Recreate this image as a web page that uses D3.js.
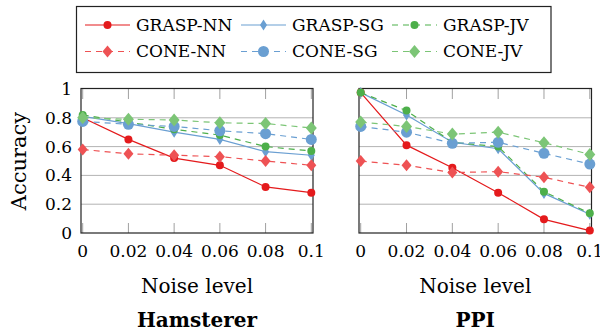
<!DOCTYPE html>
<html>
<head>
<meta charset="utf-8">
<script src="https://d3js.org/d3.v7.min.js"></script>
<style>
  body { margin: 0; background: #fff; }
</style>
</head>
<body>
<div id="chart"></div>
<script>
// noise levels on the x axis
const noise = [0, 0.02, 0.04, 0.06, 0.08, 0.1];
const xTicks = ["0", "0.02", "0.04", "0.06", "0.08", "0.1"];
const yTicks = [0, 0.2, 0.4, 0.6, 0.8, 1];

const seriesNames = ["GRASP-NN", "GRASP-SG", "GRASP-JV", "CONE-NN", "CONE-SG", "CONE-JV"];

// Hamsterer
const hamGraspNN = [0.80, 0.65, 0.52, 0.47, 0.32, 0.28];
const hamGraspSG = [0.81, 0.76, 0.70, 0.65, 0.565, 0.54];
const hamGraspJV = [0.82, 0.77, 0.72, 0.68, 0.60, 0.57];
const hamConeNN  = [0.58, 0.55, 0.54, 0.53, 0.50, 0.47];
const hamConeSG  = [0.775, 0.755, 0.74, 0.71, 0.69, 0.65];
const hamConeJV  = [0.80, 0.79, 0.785, 0.765, 0.76, 0.73];

// PPI
const ppiGraspNN = [0.975, 0.61, 0.453, 0.28, 0.095, 0.017];
const ppiGraspSG = [0.975, 0.82, 0.63, 0.585, 0.275, 0.13];
const ppiGraspJV = [0.975, 0.85, 0.63, 0.60, 0.287, 0.137];
const ppiConeNN  = [0.50, 0.47, 0.42, 0.426, 0.387, 0.317];
const ppiConeSG  = [0.74, 0.70, 0.623, 0.63, 0.553, 0.479];
const ppiConeJV  = [0.77, 0.74, 0.687, 0.70, 0.627, 0.546];

const panelTitles = ["Hamsterer", "PPI"];
const panelValues = [
  [hamGraspNN, hamGraspSG, hamGraspJV, hamConeNN, hamConeSG, hamConeJV],
  [ppiGraspNN, ppiGraspSG, ppiGraspJV, ppiConeNN, ppiConeSG, ppiConeJV]
];

// look of each series
const styles = [
  { color: "#e41a1c", dash: null,  marker: "circle",  r: 4 },
  { color: "#6a9fd2", dash: null,  marker: "diamond", w: 3.5, h: 5.5 },
  { color: "#4daf4a", dash: "6,5", marker: "circle",  r: 4 },
  { color: "#ee5254", dash: "6,5", marker: "diamond", w: 5, h: 6 },
  { color: "#6a9fd2", dash: "6,5", marker: "circle",  r: 5.5 },
  { color: "#7cc576", dash: "6,5", marker: "diamond", w: 5.5, h: 6.5 }
];

const W = 600, H = 333;
const svg = d3.select("#chart").append("svg").attr("width", W).attr("height", H)
  .style("font-family", "DejaVu Serif, serif");

const frames = [{ x0: 81, x1: 313 }, { x0: 359, x1: 591.5 }];
const plotTop = 89, plotBottom = 233;

const y = d3.scaleLinear().domain([0, 1]).range([plotBottom, plotTop]);

function drawMarker(g, st, cx, cy) {
  if (st.marker === "circle") {
    g.append("circle").attr("cx", cx).attr("cy", cy).attr("r", st.r).attr("fill", st.color);
  } else {
    g.append("path")
      .attr("d", `M${cx},${cy - st.h}L${cx + st.w},${cy}L${cx},${cy + st.h}L${cx - st.w},${cy}Z`)
      .attr("fill", st.color);
  }
}

frames.forEach((f, p) => {
  const x = d3.scaleLinear().domain([0, 0.1]).range([f.x0 + 1.7, f.x1 - 1.7]);
  const g = svg.append("g");

  // horizontal grid
  g.selectAll(".grid").data(yTicks.slice(1, -1)).enter().append("line")
    .attr("x1", f.x0).attr("x2", f.x1)
    .attr("y1", d => y(d)).attr("y2", d => y(d))
    .attr("stroke", "#b3b3b3").attr("stroke-width", 1);

  // x tick marks, top and bottom
  noise.forEach(v => {
    g.append("line").attr("x1", x(v)).attr("x2", x(v)).attr("y1", plotTop).attr("y2", plotTop + 10)
      .attr("stroke", "#a0a0a0").attr("stroke-width", 1);
    g.append("line").attr("x1", x(v)).attr("x2", x(v)).attr("y1", plotBottom).attr("y2", plotBottom - 10)
      .attr("stroke", "#a0a0a0").attr("stroke-width", 1);
  });

  // frame
  g.append("rect").attr("x", f.x0).attr("y", plotTop - 0.5)
    .attr("width", f.x1 - f.x0).attr("height", plotBottom - plotTop + 0.5)
    .attr("fill", "none").attr("stroke", "#222").attr("stroke-width", 1.2);

  // x tick labels
  g.selectAll(".xt").data(noise).enter().append("text")
    .attr("x", d => x(d)).attr("y", 257)
    .attr("text-anchor", "middle").attr("font-size", 17)
    .text((d, i) => xTicks[i]);

  // y tick labels only on the left panel
  if (p === 0) {
    g.selectAll(".yt").data(yTicks).enter().append("text")
      .attr("x", 72).attr("y", d => y(d)).attr("dy", "0.35em")
      .attr("text-anchor", "end").attr("font-size", 17)
      .text(d => d3.format("~g")(d));
    svg.append("text")
      .attr("transform", `translate(26,${(plotTop + plotBottom) / 2}) rotate(-90)`)
      .attr("text-anchor", "middle").attr("font-size", 21)
      .text("Accuracy");
  }

  // axis label and title
  const cx = (f.x0 + f.x1) / 2;
  g.append("text").attr("x", cx).attr("y", 293).attr("text-anchor", "middle")
    .attr("font-size", 20).text("Noise level");
  g.append("text").attr("x", cx).attr("y", 327).attr("text-anchor", "middle")
    .attr("font-size", 20).attr("font-weight", "bold").text(panelTitles[p]);

  // series
  const line = d3.line().x((d, i) => x(noise[i])).y(d => y(d));
  panelValues[p].forEach((vals, s) => {
    const st = styles[s];
    g.append("path").attr("d", line(vals)).attr("fill", "none")
      .attr("stroke", st.color).attr("stroke-width", 1.2)
      .attr("stroke-dasharray", st.dash);
    vals.forEach((v, i) => drawMarker(g, st, x(noise[i]), y(v)));
  });
});

// legend
const lg = svg.append("g");
lg.append("rect").attr("x", 76.5).attr("y", 6.5).attr("width", 474.5).attr("height", 66)
  .attr("fill", "#fff").attr("stroke", "#222").attr("stroke-width", 1.2);
const colX = [85, 241, 392];
const rowY = [25, 51.5];
seriesNames.forEach((name, s) => {
  const st = styles[s];
  const lx = colX[s % 3], ly = rowY[Math.floor(s / 3)];
  lg.append("line").attr("x1", lx).attr("x2", lx + 45).attr("y1", ly).attr("y2", ly)
    .attr("stroke", st.color).attr("stroke-width", 1.2).attr("stroke-dasharray", st.dash);
  drawMarker(lg, st, lx + 22.5, ly);
  lg.append("text").attr("x", lx + 51).attr("y", ly).attr("dy", "0.35em")
    .attr("font-size", 17).text(name);
});
</script>
</body>
</html>
